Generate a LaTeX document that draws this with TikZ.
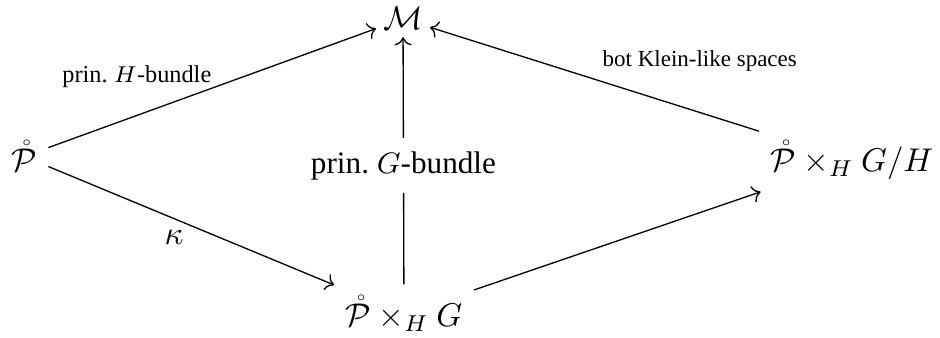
\documentclass[tikz,border=0pt]{standalone}
\usepackage{amsmath, amssymb}
\usepackage{fontspec}
\setmainfont{Liberation Serif}
\usepackage{tikz}
\usetikzlibrary{arrows.meta, positioning, calc}

\begin{document}
\begin{tikzpicture}[x=0.0107cm, y=-0.0107cm, >={Computer Modern Rightarrow}]
    \useasboundingbox (0,0) rectangle (940,338);

    % Nodi dello schema
    \node[anchor=base, inner sep=2pt] (m) at (403,30) {$\mathcal{M}$};
    \node[anchor=base] (p) at (24,172) {$\mathring{\mathcal{P}}$};
    \node[anchor=base] (pg) at (404,327) {$\mathring{\mathcal{P}}\times_H G$};
    \node[anchor=base] (pgh) at (852,172) {$\mathring{\mathcal{P}}\times_H G/H$};

    % Frecce a sinistra
    \draw[->] (p) -- (m)
        node[pos=0.27, above=5pt, font=\fontsize{7.4}{9}\selectfont] {prin.\ $H$-bundle};
    \draw[->] (p) -- (pg)
        node[pos=0.44, below] {$\kappa$};

    % Frecce a destra
    \draw[->] (pg) -- (pgh);
    \draw[->] (pgh) -- (m)
        node[pos=0.18, above=9pt, font=\scriptsize] {bot Klein-like spaces};

    % Freccia verticale con etichetta sopra la linea
    \draw[->] (pg) -- (m)
        node[pos=0.48, fill=white, inner xsep=1pt, inner ysep=4pt, font=\fontsize{9.5}{11}\selectfont] {prin.\ $G$-bundle};

\end{tikzpicture}
\end{document}
